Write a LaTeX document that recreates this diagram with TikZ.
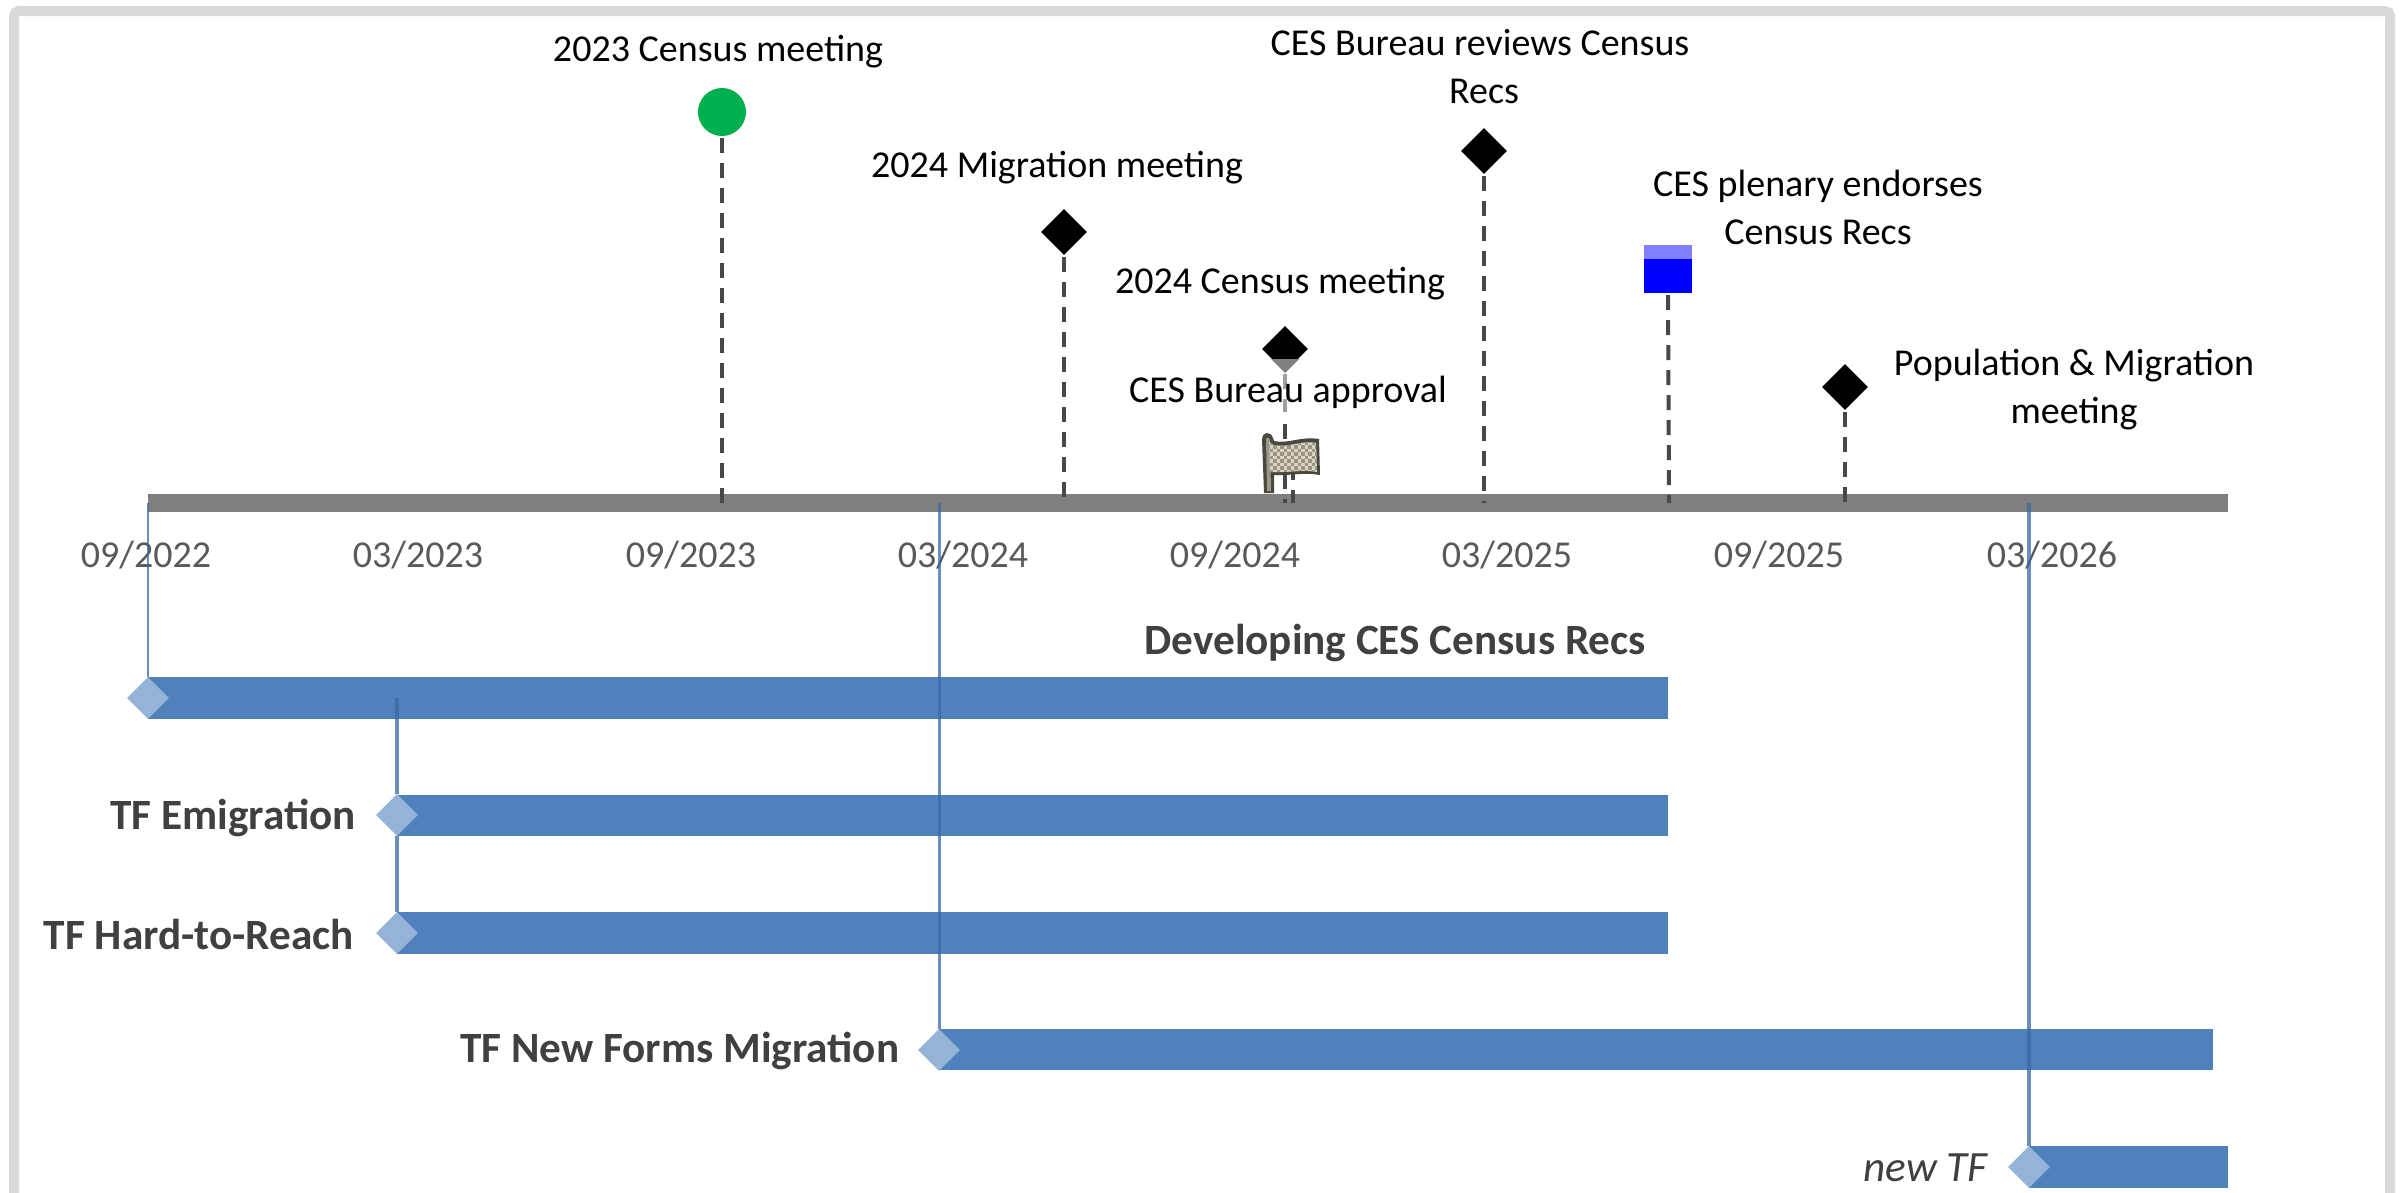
\documentclass[tikz,border=0pt]{standalone}
\usepackage{fontspec}
\setmainfont{Carlito}
\usetikzlibrary{shapes.geometric}
\definecolor{barblue}{HTML}{4F81BD}
\definecolor{diamblue}{HTML}{95B3D7}
\definecolor{linkblue}{HTML}{3A6AA5}
\definecolor{axisgrey}{HTML}{7F7F7F}
\definecolor{frameg}{HTML}{D9D9D9}
\definecolor{dategrey}{HTML}{595959}
\definecolor{labeldark}{HTML}{404040}
\definecolor{stemdark}{HTML}{484848}
\definecolor{flagtan}{HTML}{D8D3C4}
\definecolor{flagdark}{HTML}{9A9485}
\definecolor{flagline}{HTML}{4A483E}
\definecolor{poletan}{HTML}{9C9888}
\tikzset{
  x=1pt,y=-1pt,
  evlabel/.style={font=\fontsize{38}{48}\selectfont,text=black,align=center,inner sep=0},
  datelabel/.style={font=\fontsize{38}{46}\selectfont,text=dategrey,inner sep=0},
  barlabel/.style={font=\fontsize{43.2}{50}\selectfont\bfseries,text=labeldark,inner sep=0,anchor=east},
  bar/.style={fill=barblue,draw=none},
  stem/.style={draw=stemdark,line width=4pt,dash pattern=on 15pt off 10pt,shorten <=2pt},
  mile/.style={diamond,fill=black,inner sep=0,minimum width=46pt,minimum height=46pt,draw=none},
  startd/.style={diamond,fill=diamblue,inner sep=0,minimum width=42pt,minimum height=42pt,draw=none},
  link/.style={draw=linkblue,opacity=.75,line width=4pt},
}
\begin{document}
\begin{tikzpicture}
\useasboundingbox (0,0) rectangle (2405,1192);
% frame
\draw[frameg,line width=10pt,rounded corners=5pt] (14,1200) -- (14,11) -- (2390,11) -- (2390,1200);
% axis
\fill[axisgrey] (148,494) rectangle (2228,512);
\coordinate (a1) at (722,503);
\coordinate (a2) at (1064,503);
\coordinate (a3) at (1285,503);
\coordinate (a3b) at (1293,503);
\coordinate (a3c) at (1293,465);
\coordinate (a4) at (1484,503);
\coordinate (a5) at (1669,503);
\coordinate (a6) at (1845,503);
\coordinate (l0) at (148,503);
\coordinate (l1) at (397,698);
\coordinate (l2) at (939,503);
\coordinate (l3) at (2029,503);
% event markers
\node[circle,fill={rgb,255:red,0;green,176;blue,80},inner sep=0,minimum size=48pt] (m1) at (722,112) {};
\node[mile] (m2) at (1064,232) {};
\node[mile] (m3) at (1285,349) {};
\node[mile] (m4) at (1484,151) {};
\node[rectangle,fill={rgb,255:red,0;green,0;blue,255},inner sep=0,minimum size=48pt] (m5) at (1668,269) {};
\node[mile] (m6) at (1845,387) {};
\fill[fill={rgb,255:red,128;green,128;blue,255}] (1644,245) rectangle (1692,259);
\fill[axisgrey] (1271,359) -- (1299,359) -- (1285,373) -- cycle;
% stems
\draw[stem] (m1.south) -- (a1);
\draw[stem] (m2.south) -- (a2);
\draw[stem,draw=labeldark!50] (m3.south) -- (1285,412);
\draw[stem,shorten <=0pt] (1285,424) -- (a3);
\draw[stem,shorten <=0pt] (a3c) -- (a3b);
\draw[stem] (m4.south) -- (a4);
\draw[stem] (m5.south) -- (a5);
\draw[stem] (m6.south) -- (a6);
% flag
\fill[flagline] (1262,440) .. controls (1262,431) and (1271,431) .. (1273,438) -- (1274,441) .. controls (1290,444) and (1300,436) .. (1319,439) -- (1320,475) .. controls (1302,472) and (1290,476) .. (1274,475) -- (1274,493) -- (1264,493) -- cycle;
\fill[poletan] (1266,440) .. controls (1266,437) and (1269,437) .. (1270,440) -- (1271,491) -- (1267,491) -- cycle;
\begin{scope}
\clip (1269,442) -- (1274,445) .. controls (1290,448) and (1300,440) .. (1316,443) -- (1317,472) .. controls (1302,469) and (1290,473) .. (1270,472) -- cycle;
\fill[flagtan] (1265,438) rectangle (1320,476);
\foreach \i in {0,...,15} \foreach \j in {0,...,11} {
  \pgfmathparse{int(mod(\i+\j,2))}
  \ifnum\pgfmathresult=0
    \fill[flagdark] ({1266+3.5*\i},{438+3.5*\j}) rectangle ++(3.5,3.5);
  \fi
}
\end{scope}
% event labels
\node[evlabel] (t1) at (718,52) {2023 Census meeting};
\node[evlabel] (t2) at (1057,168) {2024 Migration meeting};
\node[evlabel] (t3) at (1280,284) {2024 Census meeting};
\node[evlabel] (t4) at (1288,392) {CES Bureau approval};
\node[evlabel] (t5) at (1480,67) {CES Bureau reviews Census\\\hspace*{8pt}Recs};
\node[evlabel] (t6) at (1818,207.5) {CES plenary endorses\\Census Recs};
\node[evlabel] (t7) at (2074,390) {Population \& Migration\\meeting};
% dates
\node[datelabel] (d1) at (146,555) {09/2022};
\node[datelabel] (d2) at (418,555) {03/2023};
\node[datelabel] (d3) at (691,555) {09/2023};
\node[datelabel] (d4) at (963,555) {03/2024};
\node[datelabel] (d5) at (1235,555) {09/2024};
\node[datelabel] (d6) at (1507,555) {03/2025};
\node[datelabel] (d7) at (1779,555) {09/2025};
\node[datelabel] (d8) at (2052,555) {03/2026};
% bars
\fill[bar] (148,677) rectangle (1668,719);
\fill[bar] (397,795) rectangle (1668,836);
\fill[bar] (397,912) rectangle (1668,954);
\fill[bar] (939,1029) rectangle (2213,1070);
\fill[bar] (2029,1146) rectangle (2228,1188);
% start markers
\node[startd] (s0) at (148,698) {};
\node[startd] (s1) at (397,815) {};
\node[startd] (s2) at (397,933) {};
\node[startd] (s3) at (939,1050) {};
\node[startd] (s4) at (2029,1167) {};
% links
\draw[link,line width=2.5pt] (l0) -- (s0.north);
\draw[link] (l1) -- (s1.north);
\draw[link] (s1.south) -- (s2.north);
\draw[link,line width=3pt] (l2) -- (s3.north);
\draw[link] (l3) -- (s4.north);
% bar labels
\node[barlabel] (b0) at (1646,643) {Developing CES Census Recs};
\node[barlabel] (b1) at (356,818) {TF Emigration};
\node[barlabel] (b2) at (354,934) {TF Hard-to-Reach};
\node[barlabel] (b3) at (899.5,1051) {TF New Forms Migration};
\node[barlabel,font=\fontsize{43.2}{50}\selectfont\itshape] (b4) at (1988,1168) {new TF};
\end{tikzpicture}
\end{document}
